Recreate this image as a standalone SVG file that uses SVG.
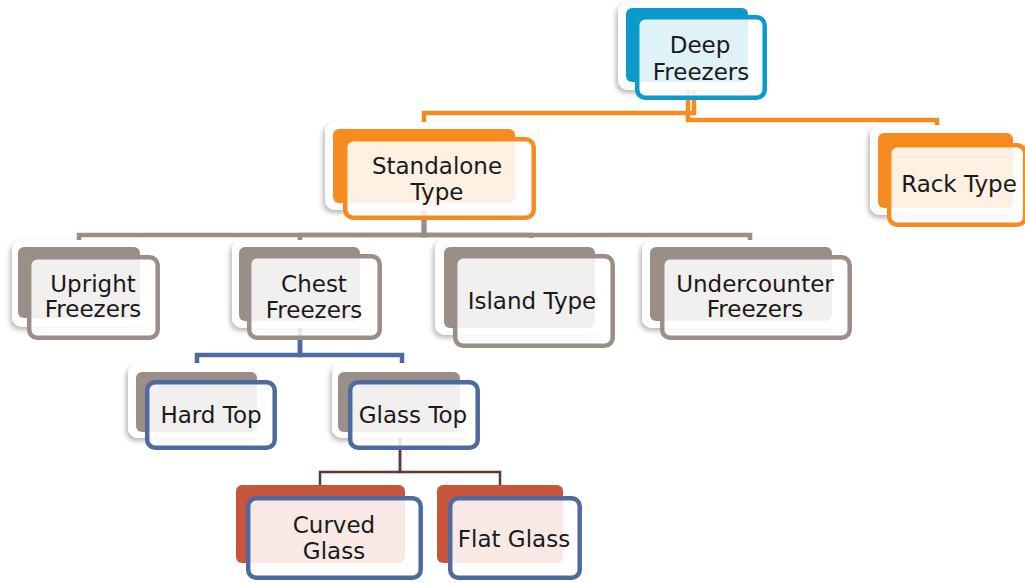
<svg xmlns="http://www.w3.org/2000/svg" width="1025" height="583" viewBox="0 0 1025 583">
<defs>
<filter id="sh" x="-20%" y="-20%" width="140%" height="150%">
<feDropShadow dx="-2" dy="3" stdDeviation="2.5" flood-color="#000" flood-opacity="0.28"/>
</filter>
<style>
.card{fill:#fff;filter:url(#sh)}
.ol{fill:#fff;fill-opacity:0.87;stroke-width:4.5}
.t{font-family:"DejaVu Sans",sans-serif;font-size:23px;fill:#1a1a1a;text-anchor:middle}
.c{fill:none;stroke-linejoin:miter}
.blue{fill:#0A9ACB}.blueS{stroke:#0A9ACB}
.org{fill:#F68B1F}.orgS{stroke:#F68B1F}
.gry{fill:#9B8E87}.gryS{stroke:#9B8E87}
.red{fill:#C8563A}
.navS{stroke:#4E6A9E}
</style>
</defs>
<rect width="1025" height="583" fill="#fff"/>
<g id="connectors">
<path class="c orgS" stroke-width="4.5" d="M694 82 V113 H424 V130"/>
<path class="c orgS" stroke-width="4.5" d="M688 82 V120 H937 V133"/>
<path class="c gryS" stroke-width="4.5" d="M424 203 V235 H79 V248"/>
<path class="c gryS" stroke-width="4.5" d="M424 203 V235 H300 V248"/>
<path class="c gryS" stroke-width="4.5" d="M424 203 V235 H531 V248"/>
<path class="c gryS" stroke-width="4.5" d="M424 203 V235 H750 V248"/>
<path class="c navS" stroke-width="4.5" d="M300 321 V355 H197 V364"/>
<path class="c navS" stroke-width="4.5" d="M300 321 V355 H402 V364"/>
<path class="c" stroke="#5C3A30" stroke-width="2.5" d="M400 432 V472 H320 V485"/>
<path class="c" stroke="#5C3A30" stroke-width="2.5" d="M400 432 V472 H500 V485"/>
</g>
<g id="deep-freezers">
<rect class="card" x="618" y="2" width="139" height="88" rx="10"/>
<rect class="blue" x="626" y="8" width="122" height="74" rx="6"/>
<rect class="ol blueS" x="637.2" y="17.2" width="127.5" height="80.5" rx="8"/>
<text class="t" x="700" y="53">Deep</text>
<text class="t" x="701" y="80">Freezers</text>
</g>
<g id="standalone-type">
<rect class="card" x="325" y="122" width="198" height="88" rx="10"/>
<rect class="org" x="333" y="129" width="182" height="74" rx="6"/>
<rect class="ol orgS" x="345.2" y="139.2" width="188.5" height="78.5" rx="8"/>
<text class="t" x="437" y="174">Standalone</text>
<text class="t" x="437" y="200">Type</text>
</g>
<g id="rack-type">
<rect class="card" x="870" y="125" width="147" height="90" rx="10"/>
<rect class="org" x="878" y="133" width="135" height="75" rx="6"/>
<rect class="ol orgS" x="889.2" y="145.2" width="136" height="79.5" rx="8"/>
<text class="t" x="959" y="192">Rack Type</text>
</g>
<g id="upright-freezers">
<rect class="card" x="12" y="240" width="135" height="87" rx="10"/>
<rect class="gry" x="18" y="247" width="122" height="71" rx="6"/>
<rect class="ol gryS" x="29.2" y="257.2" width="128.5" height="80.5" rx="8"/>
<text class="t" x="93" y="292">Upright</text>
<text class="t" x="93" y="317">Freezers</text>
</g>
<g id="chest-freezers">
<rect class="card" x="232" y="240" width="136" height="88" rx="10"/>
<rect class="gry" x="239" y="247" width="121" height="74" rx="6"/>
<rect class="ol gryS" x="249.2" y="256.2" width="130.5" height="81.5" rx="8"/>
<text class="t" x="314" y="292">Chest</text>
<text class="t" x="314" y="318">Freezers</text>
</g>
<g id="island-type">
<rect class="card" x="435" y="238" width="168" height="97" rx="10"/>
<rect class="gry" x="444" y="247" width="151" height="81" rx="6"/>
<rect class="ol gryS" x="455.2" y="256.2" width="157.5" height="89.5" rx="8"/>
<text class="t" x="532" y="309">Island Type</text>
</g>
<g id="undercounter-freezers">
<rect class="card" x="642" y="240" width="198" height="88" rx="10"/>
<rect class="gry" x="650" y="247" width="182" height="74" rx="6"/>
<rect class="ol gryS" x="662.2" y="257.2" width="187.5" height="80.5" rx="8"/>
<text class="t" x="755" y="292">Undercounter</text>
<text class="t" x="755" y="317">Freezers</text>
</g>
<g id="hard-top">
<rect class="card" x="128" y="363" width="137" height="75" rx="10"/>
<rect class="gry" x="136" y="372" width="121" height="60" rx="6"/>
<rect class="ol navS" x="147.2" y="382.2" width="127.5" height="65.5" rx="8"/>
<text class="t" x="211" y="423">Hard Top</text>
</g>
<g id="glass-top">
<rect class="card" x="332" y="363" width="136" height="75" rx="10"/>
<rect class="gry" x="338" y="372" width="122" height="60" rx="6"/>
<rect class="ol navS" x="350.2" y="382.2" width="127.5" height="65.5" rx="8"/>
<text class="t" x="413" y="423">Glass Top</text>
</g>
<g id="curved-glass">
<rect class="red" x="236" y="485" width="169" height="78" rx="6"/>
<rect class="ol navS" x="248.2" y="498.2" width="172.5" height="79.5" rx="8"/>
<text class="t" x="334" y="533">Curved</text>
<text class="t" x="334" y="559">Glass</text>
</g>
<g id="flat-glass">
<rect class="red" x="437" y="485" width="126" height="78" rx="6"/>
<rect class="ol navS" x="450.2" y="498.2" width="129.5" height="79.5" rx="8"/>
<text class="t" x="514" y="547">Flat Glass</text>
</g>
</svg>
